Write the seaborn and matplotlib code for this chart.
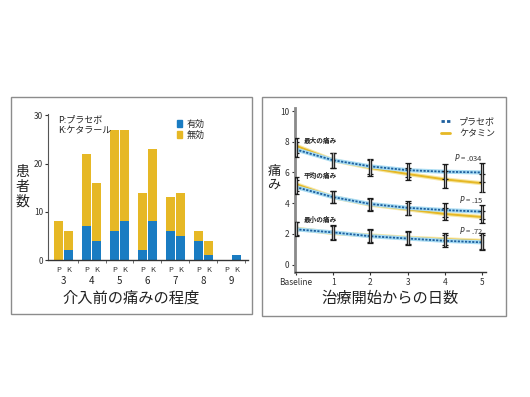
import numpy as np
import pandas as pd
import matplotlib
matplotlib.use('Agg')
import matplotlib.pyplot as plt
import seaborn as sns
from matplotlib.patches import Rectangle
from matplotlib.lines import Line2D
from matplotlib.transforms import blended_transform_factory

# Left panel: patients by pain level before intervention
levels = ['3', '4', '5', '6', '7', '8', '9']
placebo_total = [8, 22, 27, 14, 13, 6, 0]
placebo_eff = [0, 7, 6, 2, 6, 4, 0]
ketamine_total = [6, 16, 27, 23, 14, 4, 1]
ketamine_eff = [2, 4, 8, 8, 5, 1, 1]

# Right panel: pain over days since treatment start
days = ['Baseline', '1', '2', '3', '4', '5']
max_placebo = [7.5, 6.8, 6.4, 6.15, 6.05, 6.0]
max_ketamine = [7.75, 6.8, 6.3, 5.9, 5.55, 5.3]
mean_placebo = [5.05, 4.4, 3.95, 3.7, 3.55, 3.45]
mean_ketamine = [5.25, 4.4, 3.9, 3.6, 3.3, 3.1]
min_placebo = [2.3, 2.1, 1.85, 1.7, 1.55, 1.45]
min_ketamine = [2.35, 2.05, 1.9, 1.75, 1.65, 1.55]

max_err_placebo = [0.5, 0.5, 0.5, 0.45, 0.5, 0.6]
max_err_ketamine = [0.5, 0.5, 0.5, 0.4, 0.55, 0.6]
mean_err_placebo = [0.45, 0.4, 0.4, 0.45, 0.45, 0.45]
mean_err_ketamine = [0.45, 0.4, 0.4, 0.4, 0.4, 0.4]
min_err_placebo = [0.45, 0.45, 0.42, 0.42, 0.4, 0.5]
min_err_ketamine = [0.45, 0.45, 0.42, 0.42, 0.4, 0.5]

p_labels = ['.034', '.15', '.72']
p_heights = [6.95, 4.26, 2.24]
curve_names = ['最大の痛み', '平均の痛み', '最小の痛み']
curve_name_y = [8.1, 5.82, 2.95]

sns.set_style('ticks')
plt.rcParams['font.family'] = ['Noto Sans CJK JP', 'DejaVu Sans']

blue = '#1a7cc2'
gold = '#e6b825'
W, H = 530, 397

fig = plt.figure(figsize=(5.3, 3.97), dpi=100)

# panel frames
for x0, y0, x1, y1 in [(11, 97, 252, 314), (262, 97, 506, 316)]:
    fig.add_artist(Rectangle((x0 / W, 1 - y1 / H), (x1 - x0) / W, (y1 - y0) / H,
                             transform=fig.transFigure, fill=False, ec='#8c8c8c', lw=1))

# ---------- left: stacked bars ----------
ax1 = fig.add_axes([48 / W, 1 - 260 / H, 200 / W, 146 / H])
bars = pd.DataFrame({
    'level': levels * 2,
    'drug': ['P'] * 7 + ['K'] * 7,
    'total': placebo_total + ketamine_total,
    'eff': placebo_eff + ketamine_eff,
})
sns.barplot(data=bars, x='level', y='total', hue='drug', hue_order=['P', 'K'],
            palette=[gold, gold], width=0.72, gap=0.1, saturation=1,
            linewidth=0, legend=False, ax=ax1)
sns.barplot(data=bars, x='level', y='eff', hue='drug', hue_order=['P', 'K'],
            palette=[blue, blue], width=0.72, gap=0.1, saturation=1,
            linewidth=0, legend=False, ax=ax1)
ax1.set_xlim(-0.56, 6.6)
ax1.set_ylim(0, 30.3)
ax1.set_yticks([0, 10, 20, 30])
ax1.tick_params(axis='y', labelsize=6, length=2.5, width=0.8, pad=1, colors='#333333')
pos = np.arange(len(levels))
ax1.set_xticks(np.concatenate([pos - 0.18, pos + 0.18]))
ax1.set_xticklabels(['P'] * 7 + ['K'] * 7)
ax1.set_xticks(np.arange(len(levels)) + 0.5, minor=True)
ax1.tick_params(axis='x', which='major', length=0, labelsize=5.5, pad=4, colors='#333333')
ax1.tick_params(axis='x', which='minor', length=2, width=0.6, color='#555555')
ax1.set_xlabel('')
ax1.set_ylabel('')
for s in ['top', 'right']:
    ax1.spines[s].set_visible(False)
ax1.spines['left'].set_color('#555555')
ax1.spines['bottom'].set_color('#333333')
ax1.spines['left'].set_linewidth(0.8)
ax1.spines['bottom'].set_linewidth(1.0)

tr = blended_transform_factory(ax1.transData, ax1.transAxes)
for i, lv in enumerate(levels):
    ax1.text(i, -0.145, lv, transform=tr, ha='center', va='center', fontsize=7, color='#222222')

ax1.text(0.05, 0.99, 'P:プラセボ\nK:ケタラール', transform=ax1.transAxes,
         ha='left', va='top', fontsize=6.5, linespacing=1.3, color='#222222')
handles1 = [Rectangle((0, 0), 1, 1, color=blue), Rectangle((0, 0), 1, 1, color=gold)]
ax1.legend(handles1, ['有効', '無効'], loc='upper left', bbox_to_anchor=(0.62, 0.99),
           frameon=False, fontsize=6.5, handlelength=0.6, handleheight=0.8,
           handletextpad=0.5, labelspacing=0.15, borderpad=0)

fig.text(22 / W, 1 - 187 / H, '患\n者\n数', ha='center', va='center',
         fontsize=10, linespacing=1.05, color='#222222')
fig.text(131 / W, 1 - 298 / H, '介入前の痛みの程度', ha='center', va='center',
         fontsize=11, color='#222222')

# ---------- right: pain curves ----------
ax2 = fig.add_axes([295 / W, 1 - 272 / H, 191 / W, 164 / H])
x = np.arange(len(days))
series = [
    (max_placebo, max_ketamine, max_err_placebo, max_err_ketamine),
    (mean_placebo, mean_ketamine, mean_err_placebo, mean_err_ketamine),
    (min_placebo, min_ketamine, min_err_placebo, min_err_ketamine),
]

for pl, km, ep, ek in series:
    for yv, ev in [(pl, ep), (km, ek)]:
        ax2.errorbar(x, yv, yerr=ev, fmt='none', ecolor='#1a1a1a',
                     elinewidth=2.3, capsize=2.2, capthick=0.9, zorder=8)
for pl, km, ep, ek in series:
    for yv, ev in [(pl, ep), (km, ek)]:
        ax2.errorbar(x, yv, yerr=np.array(ev) - 0.05, fmt='none', ecolor='#b0b0b0',
                     elinewidth=0.8, capsize=0, zorder=9)

for pl, km, ep, ek in series:
    df = pd.DataFrame({'day': x, 'placebo': pl, 'ketamine': km})
    sns.lineplot(data=df, x='day', y='ketamine', color='#f6e6a2', linewidth=3, ax=ax2, zorder=4)
    sns.lineplot(data=df, x='day', y='ketamine', color=gold, linewidth=1.4, ax=ax2, zorder=5)
    sns.lineplot(data=df, x='day', y='placebo', color='#a9dcf3', linewidth=3, ax=ax2, zorder=6)
    sns.lineplot(data=df, x='day', y='placebo', color='#1d5f9e', linewidth=1.3,
                 linestyle=(0, (1.2, 0.8)), ax=ax2, zorder=7)

for name, yv in zip(curve_names, curve_name_y):
    ax2.text(0.2, yv, name, fontsize=4.8, fontweight='bold', color='#222222',
             ha='left', va='center', zorder=10)
for lab, yv in zip(p_labels, p_heights):
    ax2.text(5.02, yv, r'$P$ = ' + lab, fontsize=5.5, color='#333333',
             ha='right', va='center', zorder=10)

ax2.set_xlim(-0.02, 5.1)
ax2.set_ylim(-0.48, 10.2)
ax2.set_xticks(x)
ax2.set_xticklabels(days)
ax2.set_yticks([0, 2, 4, 6, 8, 10])
ax2.tick_params(axis='both', labelsize=6, length=2.5, width=0.8, pad=1.5, colors='#333333')
ax2.set_xlabel('')
ax2.set_ylabel('')
for s in ['top', 'right']:
    ax2.spines[s].set_visible(False)
ax2.spines['left'].set_color('#8a8a8a')
ax2.spines['left'].set_linewidth(2)
ax2.spines['bottom'].set_color('#333333')
ax2.spines['bottom'].set_linewidth(1.0)

handles2 = [Line2D([0], [0], color='#1d5f9e', lw=2, linestyle=(0, (1.2, 0.8))),
            Line2D([0], [0], color=gold, lw=2)]
ax2.legend(handles2, ['プラセボ', 'ケタミン'], loc='upper right', bbox_to_anchor=(1.07, 0.97),
           frameon=False, fontsize=6.5, handlelength=1.0, handletextpad=1.0,
           labelspacing=0.3, borderpad=0)

fig.text(274 / W, 1 - 178 / H, '痛\nみ', ha='center', va='center',
         fontsize=9.5, linespacing=1.05, color='#222222')
fig.text(390 / W, 1 - 298 / H, '治療開始からの日数', ha='center', va='center',
         fontsize=11, color='#222222')

fig.savefig('out.png', dpi=100)
